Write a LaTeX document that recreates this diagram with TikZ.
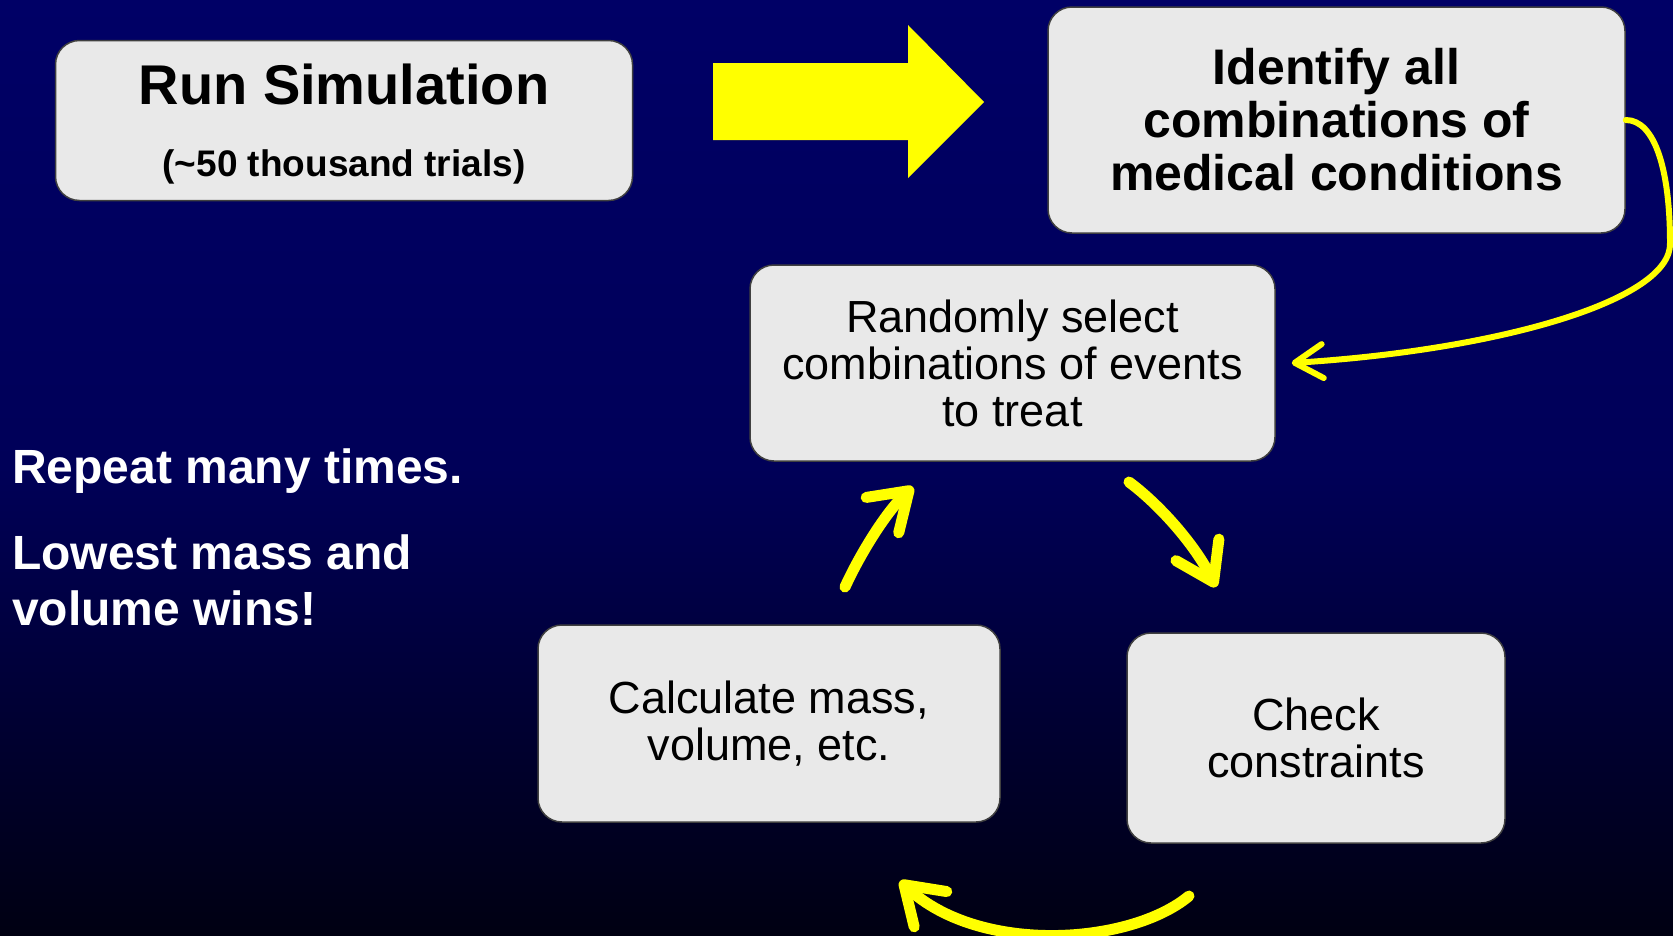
\documentclass[tikz,border=0pt]{standalone}
\usepackage{fontspec}
\setmainfont{Liberation Sans}
\usetikzlibrary{arrows.meta}

\definecolor{bgtop}{RGB}{0,0,102}
\definecolor{bgmid}{RGB}{0,0,88}
\definecolor{bgbot}{RGB}{0,0,18}
\definecolor{boxgray}{RGB}{233,233,233}
\definecolor{arrowyellow}{RGB}{255,255,0}

\tikzset{
  stepbox/.style={draw=black!75, line width=1.5pt, fill=boxgray, rounded corners=24pt, align=center, inner sep=0pt},
  boldtext/.style={font=\bfseries\fontsize{50pt}{53pt}\selectfont},
  plaintext/.style={font=\fontsize{45pt}{47pt}\selectfont},
  notetext/.style={text=white, inner sep=0pt, align=left, font=\bfseries\fontsize{48pt}{56pt}\selectfont},
  looparrow/.style={draw=arrowyellow, line width=11pt, line cap=round, -{Straight Barb[round,length=36pt,width=48pt]}},
}

\begin{document}
\begin{tikzpicture}[x=1pt, y=-1pt]
        % Background (1 unit = 1 pixel, y grows downward)
        \useasboundingbox (0,0) rectangle (1673,935);
        \shade[top color=bgtop, bottom color=bgbot, middle color=bgmid] (0,0) rectangle (1673,935);

        % Boxes
        \node[stepbox, minimum width=577pt, minimum height=160pt, font=\bfseries\fontsize{37pt}{72pt}\selectfont] (run) at (344,120.5) {\rule{0pt}{48pt}{\fontsize{56pt}{72pt}\selectfont Run Simulation}\\(\textasciitilde 50 thousand trials)};
        \node[stepbox, boldtext, minimum width=577pt, minimum height=226pt] (ident) at (1336.5,120) {Identify all\\combinations of\\medical conditions};
        \node[stepbox, plaintext, minimum width=525pt, minimum height=196pt] (random) at (1012.5,363) {Randomly select\\combinations of events\\to treat};
        \node[stepbox, plaintext, minimum width=462pt, minimum height=197pt] (calc) at (769,723.5) {Calculate mass,\\volume, etc.};
        \node[stepbox, plaintext, minimum width=378pt, minimum height=210pt] (check) at (1316,738) {Check\\constraints};

        % Notes on the left
        \node[notetext, anchor=base west] (repeat) at (12,483) {Repeat many times.};
        \node[notetext, anchor=west] (wins) at (12,580) {Lowest mass and\\volume wins!};

        % Big arrow between the top boxes
        \fill[arrowyellow] (713,63) -- (908,63) -- (908,25) -- (984,102) -- (908,178) -- (908,140) -- (713,140) -- cycle;

        % Loop arrows
        \coordinate (upS) at (845,587);
        \coordinate (upE) at (913,487);
        \coordinate (downS) at (1129,482);
        \coordinate (downE) at (1216,587);
        \coordinate (backS) at (1189,896);
        \coordinate (backE) at (900,881);
        \draw[looparrow, line width=6pt, -{Straight Barb[round,length=28pt,width=34pt]}] (ident.east) .. controls (1655,120) and (1670,170) .. (1670,243) .. controls (1672,300) and (1500,350) .. ([xshift=16pt]random.east);
        \draw[looparrow] (upS) .. controls (862,550) and (888,510) .. (upE);
        \draw[looparrow] (downS) .. controls (1160,505) and (1195,545) .. (downE);
        \draw[looparrow] (backS) .. controls (1130,945) and (980,955) .. (backE);
\end{tikzpicture}
\end{document}
